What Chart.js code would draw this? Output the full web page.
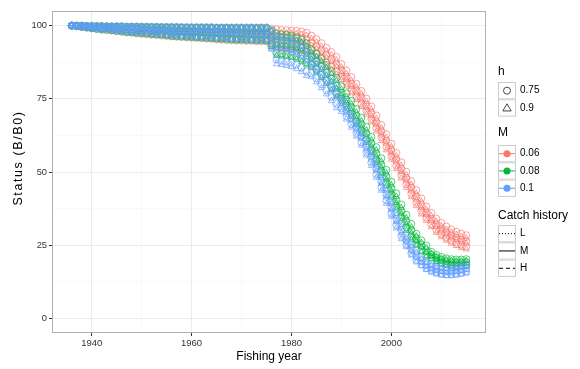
<!DOCTYPE html>
<html lang="en">
<head>
<meta charset="UTF-8">
<title>Status (B/B0) by fishing year</title>
<style>
  html, body { margin: 0; padding: 0; background: #fff; }
  #wrap { width: 580px; height: 369px; position: relative; }
</style>
<script src="https://cdn.jsdelivr.net/npm/chart.js"></script>
</head>
<body>
<div id="wrap"><canvas id="myChart" width="580" height="369"></canvas></div>
<script>
// fishing years
const years = [1936, 1937, 1938, 1939, 1940, 1941, 1942, 1943, 1944, 1945,
  1946, 1947, 1948, 1949, 1950, 1951, 1952, 1953, 1954, 1955,
  1956, 1957, 1958, 1959, 1960, 1961, 1962, 1963, 1964, 1965,
  1966, 1967, 1968, 1969, 1970, 1971, 1972, 1973, 1974, 1975,
  1976, 1977, 1978, 1979, 1980, 1981, 1982, 1983, 1984, 1985,
  1986, 1987, 1988, 1989, 1990, 1991, 1992, 1993, 1994, 1995,
  1996, 1997, 1998, 1999, 2000, 2001, 2002, 2003, 2004, 2005,
  2006, 2007, 2008, 2009, 2010, 2011, 2012, 2013, 2014, 2015];

const mLevels = ['0.06', '0.08', '0.1'];
const hLevels = ['0.75', '0.9'];
const catchLevels = ['L', 'M', 'H'];

const xTicks = [1940, 1950, 1960, 1970, 1980, 1990, 2000, 2010];
const yTicks = [0, 12.5, 25, 37.5, 50, 62.5, 75, 87.5, 100];

// status 1936-1975, by M and catch history (same for both h)
const pre06L = [100, 100, 99.9, 99.8, 99.8, 99.8, 99.7, 99.7, 99.6, 99.6, 99.6, 99.5, 99.5, 99.5, 99.4, 99.4, 99.4, 99.3, 99.3, 99.3, 99.3, 99.2, 99.2, 99.2, 99.2, 99.2, 99.1, 99.1, 99.1, 99.1, 99.1, 99.1, 99.0, 99.0, 99.0, 99.0, 99.0, 99.0, 99.0, 99.0];
const pre06M = [100, 99.9, 99.7, 99.6, 99.5, 99.4, 99.3, 99.2, 99.1, 98.9, 98.8, 98.7, 98.7, 98.6, 98.5, 98.4, 98.3, 98.2, 98.2, 98.1, 98.0, 98.0, 97.9, 97.9, 97.8, 97.8, 97.7, 97.7, 97.6, 97.6, 97.5, 97.5, 97.4, 97.3, 97.3, 97.3, 97.2, 97.2, 97.2, 97.2];
const pre06H = [100, 99.8, 99.5, 99.3, 99.1, 98.9, 98.6, 98.5, 98.3, 98.1, 97.9, 97.7, 97.6, 97.4, 97.2, 97.1, 96.9, 96.8, 96.6, 96.5, 96.3, 96.2, 96.1, 96.0, 95.9, 95.8, 95.7, 95.6, 95.5, 95.3, 95.2, 95.1, 95.0, 94.9, 94.9, 94.8, 94.8, 94.7, 94.7, 94.6];
const pre08L = [100, 100, 100, 99.9, 99.9, 99.8, 99.8, 99.7, 99.7, 99.7, 99.7, 99.6, 99.6, 99.6, 99.5, 99.5, 99.5, 99.5, 99.4, 99.4, 99.4, 99.4, 99.4, 99.3, 99.3, 99.3, 99.3, 99.3, 99.3, 99.2, 99.2, 99.2, 99.2, 99.2, 99.2, 99.2, 99.2, 99.2, 99.2, 99.2];
const pre08M = [100, 99.9, 99.8, 99.7, 99.5, 99.4, 99.3, 99.2, 99.1, 99.0, 98.9, 98.8, 98.8, 98.7, 98.6, 98.5, 98.4, 98.3, 98.3, 98.2, 98.1, 98.1, 98.0, 98.0, 97.9, 97.9, 97.8, 97.8, 97.7, 97.7, 97.6, 97.6, 97.6, 97.5, 97.5, 97.5, 97.4, 97.4, 97.4, 97.4];
const pre08H = [100, 99.8, 99.6, 99.4, 99.1, 98.9, 98.7, 98.6, 98.4, 98.2, 98.0, 97.8, 97.7, 97.5, 97.4, 97.3, 97.1, 97.0, 96.9, 96.7, 96.5, 96.4, 96.3, 96.2, 96.1, 96.0, 95.9, 95.8, 95.7, 95.6, 95.5, 95.4, 95.3, 95.2, 95.2, 95.1, 95.1, 95.0, 95.0, 94.9];
const pre10L = [100, 100, 100, 99.9, 99.9, 99.9, 99.9, 99.8, 99.8, 99.8, 99.8, 99.7, 99.7, 99.7, 99.7, 99.7, 99.6, 99.6, 99.6, 99.6, 99.6, 99.6, 99.5, 99.5, 99.5, 99.5, 99.5, 99.5, 99.5, 99.4, 99.4, 99.4, 99.4, 99.4, 99.4, 99.4, 99.4, 99.4, 99.4, 99.4];
const pre10M = [100, 99.9, 99.8, 99.7, 99.6, 99.5, 99.4, 99.3, 99.2, 99.1, 99.0, 98.9, 98.9, 98.8, 98.7, 98.7, 98.6, 98.5, 98.5, 98.4, 98.3, 98.3, 98.2, 98.2, 98.1, 98.1, 98.0, 98.0, 97.9, 97.9, 97.8, 97.8, 97.8, 97.7, 97.7, 97.7, 97.6, 97.6, 97.6, 97.6];
const pre10H = [100, 99.8, 99.6, 99.4, 99.2, 99.0, 98.8, 98.7, 98.5, 98.3, 98.2, 98.0, 97.9, 97.7, 97.6, 97.5, 97.3, 97.2, 97.1, 97.0, 96.8, 96.7, 96.6, 96.5, 96.4, 96.3, 96.2, 96.1, 96.0, 95.9, 95.8, 95.7, 95.6, 95.5, 95.5, 95.4, 95.4, 95.3, 95.3, 95.2];

// status 1976-2015, by M, h and catch history
const post06_075L = [98.9, 98.7, 98.5, 98.4, 98.3, 98.2, 98.0, 97.6, 96.6, 95.4, 94.0, 92.4, 91.0, 89.3, 86.9, 84.7, 82.4, 80.1, 77.7, 75.1, 72.4, 69.3, 66.1, 62.9, 59.7, 56.5, 53.3, 50.1, 46.9, 43.8, 41.0, 38.2, 36.0, 34.1, 32.6, 31.4, 30.4, 29.6, 28.9, 28.4];
const post06_09L = [98.4, 97.7, 97.5, 97.4, 97.3, 97.2, 97.0, 96.6, 95.5, 94.3, 92.9, 91.3, 89.9, 88.2, 85.8, 83.6, 81.3, 79.0, 76.6, 74.0, 71.3, 68.2, 65.0, 61.8, 58.6, 55.4, 52.2, 49.0, 45.8, 42.7, 39.9, 37.2, 35.0, 33.1, 31.6, 30.4, 29.4, 28.6, 27.9, 27.4];
const post06_075M = [96.8, 96.2, 96.0, 95.9, 95.8, 95.7, 95.5, 95.1, 94.2, 93.0, 91.6, 90.0, 88.6, 86.9, 84.7, 82.5, 80.2, 77.9, 75.5, 72.9, 70.2, 67.1, 63.9, 60.7, 57.5, 54.3, 51.1, 47.9, 44.7, 41.6, 38.8, 36.2, 34.0, 32.1, 30.6, 29.4, 28.4, 27.6, 26.9, 26.4];
const post06_09M = [96.3, 95.2, 95.0, 94.9, 94.8, 94.7, 94.5, 94.1, 93.2, 92.0, 90.6, 89.0, 87.6, 85.9, 83.7, 81.5, 79.2, 76.9, 74.5, 71.9, 69.2, 66.1, 62.9, 59.7, 56.5, 53.3, 50.1, 46.9, 43.7, 40.6, 37.8, 35.4, 33.2, 31.3, 29.8, 28.6, 27.6, 26.8, 26.1, 25.6];
const post06_075H = [94.0, 93.2, 93.0, 92.9, 92.8, 92.7, 92.5, 92.1, 91.6, 90.4, 89.0, 87.4, 86.0, 84.3, 82.6, 80.4, 78.1, 75.8, 73.4, 70.8, 68.1, 65.0, 61.8, 58.6, 55.4, 52.2, 49.0, 45.8, 42.6, 39.5, 36.7, 34.4, 32.2, 30.3, 28.8, 27.6, 26.6, 25.8, 25.1, 24.6];
const post06_09H = [93.5, 92.2, 92.0, 91.9, 91.8, 91.7, 91.5, 91.1, 90.6, 89.4, 88.0, 86.4, 85.0, 83.3, 81.5, 79.3, 77.0, 74.7, 72.3, 69.7, 67.0, 63.9, 60.7, 57.5, 54.3, 51.1, 47.9, 44.7, 41.5, 38.4, 35.6, 33.4, 31.2, 29.3, 27.8, 26.6, 25.6, 24.8, 24.1, 23.6];

const post08_075L = [98.4, 97.2, 97.0, 96.8, 96.5, 96.0, 95.2, 94.0, 92.0, 90.4, 88.6, 86.6, 84.5, 82.2, 79.3, 76.9, 74.3, 71.5, 68.5, 65.4, 62.0, 58.5, 54.7, 50.7, 46.7, 42.7, 38.9, 35.4, 32.3, 28.9, 26.7, 24.9, 22.7, 21.7, 21.0, 20.5, 20.2, 20.1, 20.1, 20.2];
const post08_09L = [98.0, 96.2, 96.0, 95.8, 95.5, 95.0, 94.2, 93.0, 91.0, 89.4, 87.6, 85.6, 83.5, 81.2, 78.2, 75.8, 73.2, 70.4, 67.4, 64.3, 60.9, 57.4, 53.6, 49.6, 45.6, 41.6, 37.8, 34.3, 31.2, 28.1, 25.9, 24.1, 22.2, 21.2, 20.5, 20.0, 19.7, 19.6, 19.6, 19.7];
const post08_075M = [96.1, 94.2, 94.0, 93.8, 93.5, 93.0, 92.2, 91.0, 89.4, 87.8, 86.0, 84.0, 81.9, 79.6, 77.1, 74.7, 72.1, 69.3, 66.3, 63.2, 59.8, 56.3, 52.5, 48.5, 44.5, 40.5, 36.7, 33.2, 30.1, 27.3, 25.1, 23.3, 21.7, 20.7, 20.0, 19.5, 19.2, 19.1, 19.1, 19.2];
const post08_09M = [95.7, 93.2, 93.0, 92.8, 92.5, 92.0, 91.2, 90.0, 88.4, 86.8, 85.0, 83.0, 80.9, 78.6, 76.1, 73.7, 71.1, 68.3, 65.3, 62.2, 58.8, 55.3, 51.5, 47.5, 43.5, 39.5, 35.7, 32.2, 29.1, 26.5, 24.3, 22.5, 21.3, 20.3, 19.6, 19.1, 18.8, 18.7, 18.7, 18.8];
const post08_075H = [93.2, 90.7, 90.5, 90.3, 90.0, 89.5, 88.7, 87.5, 86.6, 85.0, 83.2, 81.2, 79.1, 76.8, 75.0, 72.6, 70.0, 67.2, 64.2, 61.1, 57.7, 54.2, 50.4, 46.4, 42.4, 38.4, 34.6, 31.1, 28.0, 25.7, 23.5, 21.7, 20.8, 19.8, 19.1, 18.6, 18.3, 18.2, 18.2, 18.3];
const post08_09H = [92.8, 89.7, 89.5, 89.3, 89.0, 88.5, 87.7, 86.5, 85.6, 84.0, 82.2, 80.2, 78.1, 75.8, 73.9, 71.5, 68.9, 66.1, 63.1, 60.0, 56.6, 53.1, 49.3, 45.3, 41.3, 37.3, 33.5, 30.0, 26.9, 24.9, 22.7, 20.9, 20.3, 19.3, 18.6, 18.1, 17.8, 17.7, 17.7, 17.8];

const post10_075L = [98.2, 96.4, 96.1, 95.8, 95.4, 94.7, 93.7, 92.4, 90.0, 88.2, 86.2, 84.1, 81.8, 79.4, 76.0, 73.4, 70.6, 67.6, 64.5, 61.1, 57.5, 53.5, 49.1, 44.6, 40.2, 36.2, 32.5, 28.4, 25.5, 23.2, 20.9, 19.6, 18.7, 18.1, 17.7, 17.5, 17.5, 17.7, 18.0, 18.4];
const post10_09L = [97.8, 95.4, 95.1, 94.8, 94.4, 93.7, 92.7, 91.4, 88.9, 87.1, 85.1, 83.0, 80.7, 78.3, 74.9, 72.3, 69.5, 66.5, 63.4, 60.0, 56.4, 52.4, 48.0, 43.5, 39.1, 35.1, 31.4, 27.6, 24.7, 22.4, 20.3, 19.0, 18.1, 17.5, 17.1, 16.9, 16.9, 17.1, 17.4, 17.8];
const post10_075M = [95.7, 92.9, 92.6, 92.3, 91.9, 91.2, 90.2, 88.9, 87.1, 85.3, 83.3, 81.2, 78.9, 76.5, 73.8, 71.2, 68.4, 65.4, 62.3, 58.9, 55.3, 51.3, 46.9, 42.4, 38.0, 34.0, 30.3, 26.8, 23.9, 21.6, 19.7, 18.4, 17.5, 16.9, 16.5, 16.3, 16.3, 16.5, 16.8, 17.2];
const post10_09M = [95.3, 91.9, 91.6, 91.3, 90.9, 90.2, 89.2, 87.9, 86.1, 84.3, 82.3, 80.2, 77.9, 75.5, 72.8, 70.2, 67.4, 64.4, 61.3, 57.9, 54.3, 50.3, 45.9, 41.4, 37.0, 33.0, 29.3, 26.0, 23.1, 20.8, 19.1, 17.8, 16.9, 16.3, 15.9, 15.7, 15.7, 15.9, 16.2, 16.6];
const post10_075H = [92.5, 88.4, 88.1, 87.8, 87.4, 86.7, 85.7, 84.4, 83.8, 82.0, 80.0, 77.9, 75.6, 73.2, 71.7, 69.1, 66.3, 63.3, 60.2, 56.8, 53.2, 49.2, 44.8, 40.3, 35.9, 31.9, 28.2, 25.2, 22.3, 20.0, 18.5, 17.2, 16.3, 15.7, 15.3, 15.1, 15.1, 15.3, 15.6, 16.0];
const post10_09H = [91.9, 86.9, 86.6, 86.3, 85.9, 85.2, 84.2, 82.9, 82.5, 80.7, 78.7, 76.6, 74.3, 71.9, 70.6, 68.0, 65.2, 62.2, 59.1, 55.7, 52.1, 48.1, 43.7, 39.2, 34.8, 30.8, 27.1, 24.4, 21.5, 19.2, 17.9, 16.6, 15.7, 15.1, 14.7, 14.5, 14.5, 14.7, 15.0, 15.4];

// lookup tables
const preStatus = {
  '0.06': { L: pre06L, M: pre06M, H: pre06H },
  '0.08': { L: pre08L, M: pre08M, H: pre08H },
  '0.1':  { L: pre10L, M: pre10M, H: pre10H }
};
const postStatus = {
  '0.06': { '0.75': { L: post06_075L, M: post06_075M, H: post06_075H }, '0.9': { L: post06_09L, M: post06_09M, H: post06_09H } },
  '0.08': { '0.75': { L: post08_075L, M: post08_075M, H: post08_075H }, '0.9': { L: post08_09L, M: post08_09M, H: post08_09H } },
  '0.1':  { '0.75': { L: post10_075L, M: post10_075M, H: post10_075H }, '0.9': { L: post10_09L, M: post10_09M, H: post10_09H } }
};

// styles
const FONT = '"Liberation Sans", Arial, Helvetica, sans-serif';
const mColors = { '0.06': '#F8766D', '0.08': '#00BA38', '0.1': '#619CFF' };
const hShapes = { '0.75': 'circle', '0.9': 'triangle' };
const catchDash = { L: [1, 2], M: [], H: [4, 3] };

function withAlpha(hex, a) {
  const n = parseInt(hex.slice(1), 16);
  return 'rgba(' + (n >> 16) + ',' + ((n >> 8) & 255) + ',' + (n & 255) + ',' + a + ')';
}

const datasets = [];
mLevels.forEach((m, mi) => {
  hLevels.forEach(h => {
    catchLevels.forEach(c => {
      const values = preStatus[m][c].concat(postStatus[m][h][c]);
      datasets.push({
        label: 'M=' + m + ' h=' + h + ' ' + c,
        data: years.map((yr, i) => ({ x: yr, y: values[i] })),
        borderColor: withAlpha(mColors[m], 0.75),
        borderWidth: 0.7,
        borderDash: catchDash[c],
        pointStyle: hShapes[h],
        pointRadius: 3.5,
        pointHoverRadius: 3.5,
        pointBorderWidth: 0.9,
        pointBorderColor: withAlpha(mColors[m], 0.75),
        pointBackgroundColor: 'rgba(0,0,0,0)',
        tension: 0,
        fill: false,
        order: mLevels.length - mi
      });
    });
  });
});

// axis titles, panel border and ggplot-like legend
const decorPlugin = {
  id: 'decor',
  afterDraw(chart) {
    const c = chart.ctx;
    const a = chart.chartArea;
    c.save();
    c.strokeStyle = '#b0b0b0';
    c.lineWidth = 1;
    c.strokeRect(Math.round(a.left) + 0.5, Math.round(a.top) + 0.5, Math.round(a.right - a.left) - 1, Math.round(a.bottom - a.top) - 1);

    c.fillStyle = '#000';
    c.font = '12px ' + FONT;
    c.textAlign = 'center';
    c.textBaseline = 'middle';
    c.fillText('Fishing year', (a.left + a.right) / 2, 357);
    c.save();
    c.translate(19, 158);
    c.rotate(-Math.PI / 2);
    c.font = '12.5px ' + FONT;
    c.letterSpacing = '1.6px';
    c.fillText('Status (B/B0)', 0, 0);
    c.restore();

    // legend
    const kx = 498, kw = 18, kh = 17.3, lx = 520;
    c.textAlign = 'left';
    function keyBox(y) {
      c.fillStyle = '#fff';
      c.fillRect(kx, y, kw, kh);
      c.strokeStyle = '#cccccc';
      c.lineWidth = 1;
      c.setLineDash([]);
      c.strokeRect(kx + 0.5, y + 0.5, kw - 1, kh - 1);
    }
    function label(t, y) {
      c.fillStyle = '#000';
      c.font = '10px ' + FONT;
      c.fillText(t, lx, y + kh / 2);
    }
    function title(t, y) {
      c.fillStyle = '#000';
      c.font = '12px ' + FONT;
      c.fillText(t, kx, y);
    }

    title('h', 72);
    hLevels.forEach((h, i) => {
      const y = 82 + i * kh;
      keyBox(y);
      const cx = kx + kw / 2, cy = y + kh / 2;
      c.strokeStyle = '#333';
      c.lineWidth = 0.9;
      c.beginPath();
      if (hShapes[h] === 'circle') {
        c.arc(cx, cy, 3.5, 0, Math.PI * 2);
      } else {
        c.moveTo(cx, cy - 4.2);
        c.lineTo(cx - 4.2, cy + 3);
        c.lineTo(cx + 4.2, cy + 3);
        c.closePath();
      }
      c.stroke();
      label(h, y);
    });

    title('M', 133);
    mLevels.forEach((m, i) => {
      const y = 145 + i * kh;
      keyBox(y);
      const cy = y + kh / 2;
      c.strokeStyle = mColors[m];
      c.lineWidth = 1;
      c.beginPath();
      c.moveTo(kx + 1, cy);
      c.lineTo(kx + kw - 1, cy);
      c.stroke();
      c.fillStyle = mColors[m];
      c.beginPath();
      c.arc(kx + kw / 2, cy, 3.5, 0, Math.PI * 2);
      c.fill();
      label(m, y);
    });

    title('Catch history', 216);
    catchLevels.forEach((ch, i) => {
      const y = 225 + i * kh;
      keyBox(y);
      const cy = y + kh / 2;
      c.strokeStyle = '#000';
      c.lineWidth = 1;
      c.setLineDash(catchDash[ch]);
      c.beginPath();
      c.moveTo(kx + 1, cy);
      c.lineTo(kx + kw - 1, cy);
      c.stroke();
      c.setLineDash([]);
      label(ch, y);
    });
    c.restore();
  }
};

const isMajorX = v => v % 20 === 0;
const isMajorY = v => v % 25 === 0;

const ctx = document.getElementById('myChart').getContext('2d');
const myChart = new Chart(ctx, {
  type: 'line',
  data: { datasets: datasets },
  options: {
    responsive: false,
    animation: false,
    layout: { padding: { top: 11, right: 94, bottom: 0, left: 0 } },
    plugins: {
      legend: { display: false },
      tooltip: { enabled: false }
    },
    scales: {
      x: {
        type: 'linear',
        min: 1932.05,
        max: 2018.95,
        afterBuildTicks: s => { s.ticks = xTicks.map(v => ({ value: v })); },
        afterFit: s => { s.height = 36; },
        border: { display: false },
        grid: {
          color: g => (g.tick && isMajorX(g.tick.value)) ? '#ebebeb' : '#f5f5f5',
          lineWidth: g => (g.tick && isMajorX(g.tick.value)) ? 1 : 0.6,
          tickLength: 3,
          tickColor: g => (g.tick && isMajorX(g.tick.value)) ? '#333' : 'rgba(0,0,0,0)'
        },
        ticks: {
          autoSkip: false,
          maxRotation: 0,
          padding: 2,
          color: '#333',
          font: { family: FONT, size: 9.5 },
          callback: v => isMajorX(v) ? String(v) : ''
        }
      },
      y: {
        min: -5,
        max: 105,
        afterBuildTicks: s => { s.ticks = yTicks.map(v => ({ value: v })); },
        afterFit: s => { s.width = 52; },
        border: { display: false },
        grid: {
          color: g => (g.tick && isMajorY(g.tick.value)) ? '#ebebeb' : '#f5f5f5',
          lineWidth: g => (g.tick && isMajorY(g.tick.value)) ? 1 : 0.6,
          tickLength: 3,
          tickColor: g => (g.tick && isMajorY(g.tick.value)) ? '#333' : 'rgba(0,0,0,0)'
        },
        ticks: {
          padding: 2,
          color: '#333',
          font: { family: FONT, size: 9.3 },
          callback: v => isMajorY(v) ? String(v) : ''
        }
      }
    }
  },
  plugins: [decorPlugin]
});
</script>
</body>
</html>
